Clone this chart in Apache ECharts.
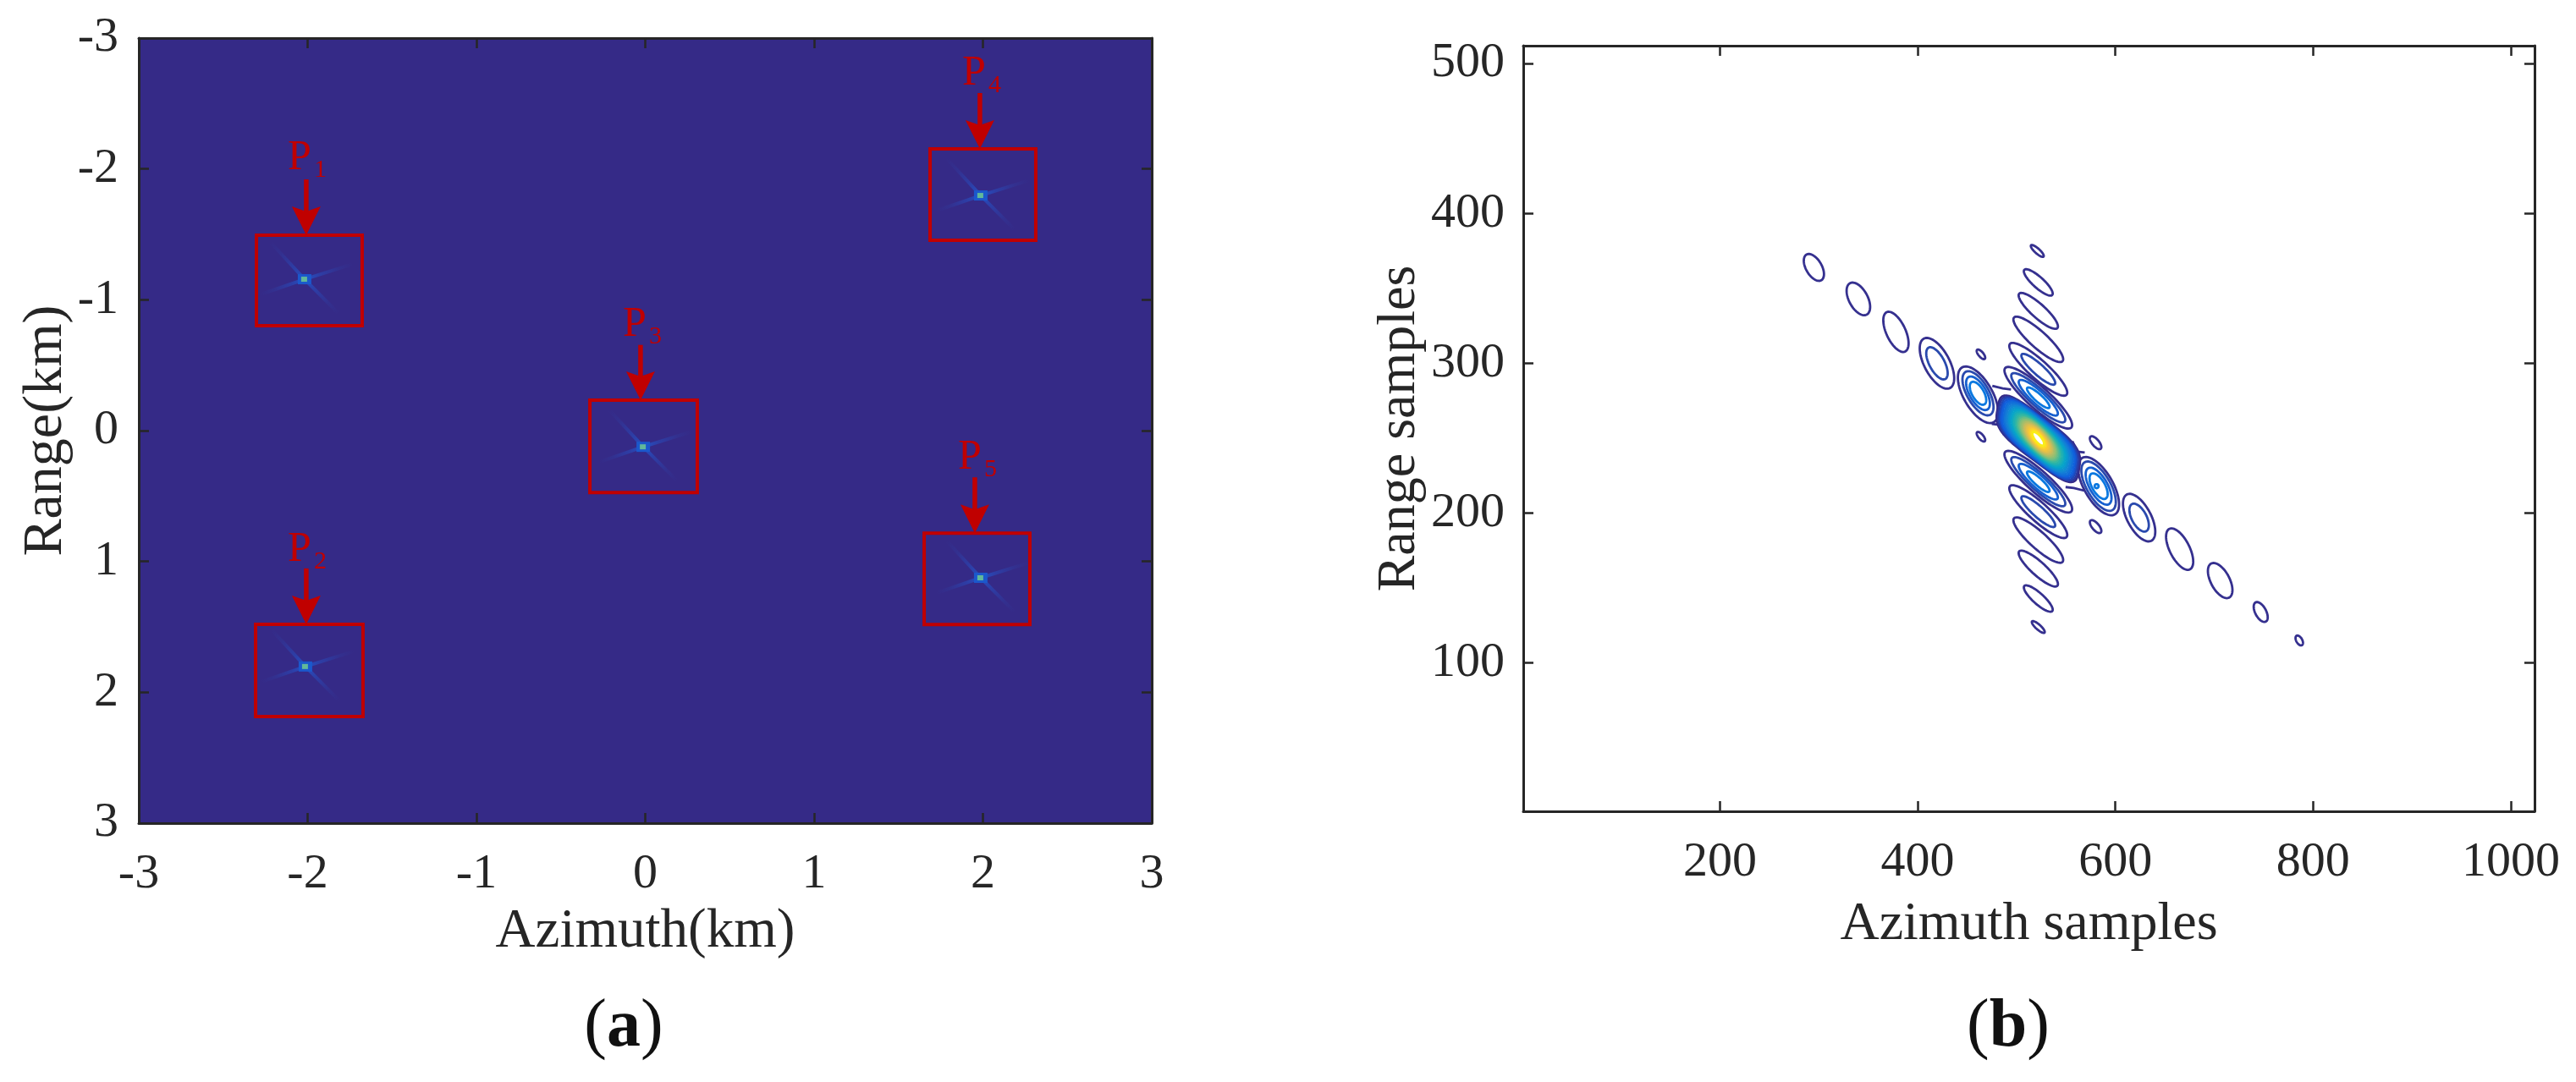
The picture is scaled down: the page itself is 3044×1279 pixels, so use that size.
<!DOCTYPE html>
<html>
<head>
<meta charset="utf-8">
<title>Point targets and contour</title>
<style>
  html, body { margin: 0; padding: 0; background: #fff; }
  #chart { width: 3044px; height: 1279px; }
</style>
</head>
<body>
<div id="chart"></div>
<script src="https://cdn.jsdelivr.net/npm/echarts@6/dist/echarts.min.js"></script>
<script>
// panel (a): tick labels, km
const kmTicks = [-3, -2, -1, 0, 1, 2, 3];
const targetNames = ['1', '2', '3', '4', '5'];
// peak position of each point target [azimuth, range]
const targetPeaks = [[-2.018, -1.157], [-2.013, 1.803], [-0.012, 0.124], [1.987, -1.797], [1.987, 1.125]];
// red boxes [azimuth min, range min, azimuth max, range max]
const targetBoxes = [
  [-2.303, -1.493, -1.677, -0.801],
  [-2.308, 1.481, -1.672, 2.186],
  [-0.328, -0.232, 0.308, 0.473],
  [1.687, -2.153, 2.313, -1.455],
  [1.652, 0.784, 2.278, 1.483]
];
// arrow start [azimuth, range], the tip sits on the top of the box
const arrowStarts = [[-2.008, -1.92], [-2.008, 1.053], [-0.028, -0.655], [1.982, -2.58], [1.952, 0.357]];
// left end / baseline of the P labels
const labelAnchors = [[-2.118, -1.97], [-2.118, 1.02], [-0.133, -0.70], [1.877, -2.62], [1.852, 0.315]];
// sidelobe streak ends, relative to the peak
const streakEnds = [[-0.2, -0.28], [0.2, 0.26], [-0.26, 0.116], [0.286, -0.116]];

// panel (b): tick labels, samples
const azimuthTicks = [200, 400, 600, 800, 1000];
const rangeTicks = [100, 200, 300, 400, 500];
// contours [azimuth, range, half length, half width, tilt degrees, level]
const sideLobes = [
  // azimuth cut, upper left
  [295, 364, 15, 8, 60, 0],
  [340, 343, 18, 9.5, 62, 0],
  [378, 321, 22, 9.7, 65, 0],
  [419.5, 300, 28.3, 12.8, 62, 0],
  [419.5, 300, 18, 7.7, 62, 1],
  [461, 279, 32, 14.5, 60, 0],
  [461, 280, 25, 11, 60, 1],
  [461, 280, 19, 8.5, 60, 2],
  [461, 280, 13, 6, 60, 3],
  // azimuth cut, lower right
  [583, 218, 33, 14.5, 60, 0],
  [583, 218, 28, 12, 60, 1],
  [583, 218, 21, 9, 60, 2],
  [583, 218, 14.5, 6.5, 60, 3],
  [581, 218, 2, 2, 0, 3],
  [624, 197, 26.5, 12, 62, 0],
  [624, 197, 15.5, 7.5, 62, 1],
  [665, 176, 23, 10, 63, 0],
  [706, 155, 19.5, 9.5, 62, 0],
  [747, 134, 11, 5.5, 62, 0],
  [786, 115, 5.5, 3, 60, 0],
  // range cut, upper
  [521, 375, 8.5, 2.5, 42, 0],
  [522, 354, 19, 5.5, 42, 0],
  [522, 335, 26, 7, 42, 0],
  [522, 316, 33, 8.5, 42, 0],
  [522, 296, 38.5, 9.5, 42, 0],
  [522, 296, 22.5, 5.5, 42, 1],
  [522, 277, 45, 11, 42, 0],
  [522, 277, 36, 8.5, 42, 1],
  [522, 277, 26, 6.5, 42, 2],
  [522, 277, 15, 3.8, 42, 3],
  // range cut, lower
  [522, 221, 45, 11, 42, 0],
  [522, 221, 36, 8.5, 42, 1],
  [522, 221, 26, 6.5, 42, 2],
  [522, 221, 15, 3.8, 42, 3],
  [522, 201, 38.5, 9.5, 42, 0],
  [522, 201, 22.5, 5.5, 42, 1],
  [522, 182, 33, 8.5, 42, 0],
  [522, 163, 26, 7, 42, 0],
  [522, 143, 19, 5.5, 42, 0],
  [522, 124, 8.5, 2.5, 42, 0],
  // small ones next to the main lobe
  [464, 306, 6, 2.5, 50, 0],
  [464, 251, 6, 2.5, 50, 0],
  [580, 247, 8, 3.5, 50, 0],
  [580, 191, 8, 3.5, 50, 0]
];
// contour necks that tie the azimuth lobes to the main lobe
const necks = [
  [[556.5, 248], [561.6, 241], [569, 240.5]],
  [[549.6, 217.4], [558, 216.8], [568.5, 215]],
  [[487.5, 252], [482.4, 259], [475, 259.5]],
  [[494.4, 282.6], [486, 283.2], [475.5, 285]]
];
// main lobe
const mainCenter = [522, 249.6];
const mainLong = [41.2, -20.3];
const mainShort = [-3.8, -14.6];
// main lobe contours [scale, squareness, turn degrees]
const mainLevels = [
  [1, 3.6, 0], [0.97, 3.5, 0], [0.94, 3.4, 1], [0.91, 3.3, 1], [0.88, 3.2, 1], [0.85, 3.1, 2],
  [0.82, 3, 2], [0.79, 2.9, 2], [0.76, 2.8, 3], [0.73, 2.7, 3], [0.7, 2.6, 3], [0.67, 2.5, 4],
  [0.64, 2.45, 4], [0.61, 2.4, 4], [0.58, 2.35, 5], [0.55, 2.3, 5], [0.52, 2.25, 5], [0.49, 2.2, 6],
  [0.46, 2.15, 6], [0.43, 2.1, 6], [0.4, 2.1, 7], [0.37, 2.05, 7], [0.34, 2, 7], [0.31, 2, 8],
  [0.28, 2, 8], [0.25, 2, 8], [0.22, 2, 9], [0.19, 2, 9], [0.16, 2, 9]
];
const levelColors = ['#35308f', '#2a4aae', '#1760cf', '#0a78e0'];
const parula = ['#352a87', '#0f5cdd', '#1481d6', '#06a4ca', '#2eb7a4', '#87bf77', '#d1bb59', '#fec832', '#f9fb0e'];

const bgBlue = '#352a87';
const red = '#c00000';
const ink = '#262626';
const serif = '"Liberation Serif", "Times New Roman", serif';

function parulaColor(t) {
  const p = Math.min(Math.max(t, 0), 1) * (parula.length - 1);
  const i = Math.min(Math.floor(p), parula.length - 2);
  const f = p - i;
  const a = echarts.color.parse(parula[i]);
  const b = echarts.color.parse(parula[i + 1]);
  return 'rgb(' + [0, 1, 2].map(k => Math.round(a[k] + (b[k] - a[k]) * f)).join(',') + ')';
}

function makeAxis(type, gridIndex, ticks, min, max, name, nameGap, extra) {
  const main = {
    type: 'value',
    gridIndex: gridIndex,
    min: min,
    max: max,
    name: name,
    nameLocation: 'middle',
    nameGap: nameGap,
    nameTextStyle: { color: ink, fontFamily: serif, fontSize: extra.nameSize },
    axisLine: { onZero: false, lineStyle: { color: ink, width: 3 } },
    axisTick: { show: true, inside: true, length: 12, customValues: ticks, lineStyle: { color: ink, width: 2.5 } },
    axisLabel: {
      show: true,
      color: ink,
      fontFamily: serif,
      fontSize: 58,
      margin: extra.margin,
      customValues: ticks,
      hideOverlap: false,
      formatter: value => String(value)
    },
    splitLine: { show: false },
    inverse: !!extra.inverse
  };
  if (type === 'y') {
    main.nameRotate = 90;
    main.position = 'left';
  } else {
    main.position = 'bottom';
  }
  const mirror = {
    type: 'value',
    gridIndex: gridIndex,
    min: min,
    max: max,
    position: type === 'y' ? 'right' : 'top',
    inverse: !!extra.inverse,
    axisLine: { onZero: false, lineStyle: { color: ink, width: 3 } },
    axisTick: { show: true, inside: true, length: 12, customValues: ticks, lineStyle: { color: ink, width: 2.5 } },
    axisLabel: { show: false },
    splitLine: { show: false }
  };
  return [main, mirror];
}

// a peak with its four faint streaks
function renderPeak(params, api) {
  const i = api.value(0);
  const c = api.coord(targetPeaks[i]);
  const children = streakEnds.map(end => {
    const e = api.coord([targetPeaks[i][0] + end[0], targetPeaks[i][1] + end[1]]);
    return {
      type: 'line',
      shape: { x1: c[0], y1: c[1], x2: e[0], y2: e[1] },
      style: {
        lineWidth: 4,
        stroke: new echarts.graphic.LinearGradient(c[0], c[1], e[0], e[1], [
          { offset: 0, color: '#2450c4' },
          { offset: 0.3, color: '#2d3ea6' },
          { offset: 0.7, color: '#33308f' },
          { offset: 1, color: bgBlue }
        ], true)
      }
    };
  });
  children.push(
    { type: 'rect', shape: { x: c[0] - 8, y: c[1] - 6, width: 16, height: 12 }, style: { fill: '#1b58cc' } },
    { type: 'rect', shape: { x: c[0] - 4, y: c[1] - 3, width: 7, height: 6 }, style: { fill: '#62b89a' } }
  );
  return { type: 'group', children: children };
}

// box, arrow and P label of one target
function renderMarker(params, api) {
  const i = api.value(0);
  const box = targetBoxes[i];
  const a = api.coord([box[0], box[1]]);
  const b = api.coord([box[2], box[3]]);
  const start = api.coord(arrowStarts[i]);
  const tipY = a[1];
  const x = start[0];
  const label = api.coord(labelAnchors[i]);
  return {
    type: 'group',
    children: [
      {
        type: 'rect',
        shape: { x: a[0], y: a[1], width: b[0] - a[0], height: b[1] - a[1] },
        style: { fill: 'none', stroke: red, lineWidth: 4 }
      },
      {
        type: 'line',
        shape: { x1: x, y1: start[1], x2: x, y2: tipY - 20 },
        style: { stroke: red, lineWidth: 5.5 }
      },
      {
        type: 'polygon',
        shape: { points: [[x, tipY], [x + 17, tipY - 34], [x, tipY - 28], [x - 17, tipY - 34]] },
        style: { fill: red }
      },
      {
        type: 'text',
        x: label[0],
        y: label[1] - 17,
        style: { text: 'P', fill: red, font: '50px ' + serif, align: 'left', verticalAlign: 'middle' }
      },
      {
        type: 'text',
        x: label[0] + 31,
        y: label[1] - 3,
        style: { text: targetNames[i], fill: red, font: '30px ' + serif, align: 'left', verticalAlign: 'middle' }
      }
    ]
  };
}

function renderSideLobe(params, api) {
  const c = api.coord([api.value(0), api.value(1)]);
  const size = api.size([1, 1]);
  const A = api.value(2) * size[0];
  const B = api.value(3) * size[0];
  const phi = api.value(4) * Math.PI / 180;
  const points = [];
  for (let k = 0; k < 72; k++) {
    const t = k / 72 * Math.PI * 2;
    const p = A * Math.cos(t);
    const q = B * Math.sin(t);
    points.push([c[0] + p * Math.cos(phi) - q * Math.sin(phi), c[1] + p * Math.sin(phi) + q * Math.cos(phi)]);
  }
  return {
    type: 'polygon',
    shape: { points: points },
    style: { fill: 'none', stroke: levelColors[api.value(5)], lineWidth: 2.8 }
  };
}

function renderMainLevel(params, api) {
  const c = api.coord(mainCenter);
  const size = api.size([1, 1]);
  const scale = api.value(0);
  const power = 2 / api.value(1);
  const turn = api.value(2) * Math.PI / 180;
  const ux = mainLong[0] * size[0], uy = -mainLong[1] * size[1];
  const vx = mainShort[0] * size[0], vy = -mainShort[1] * size[1];
  const points = [];
  for (let k = 0; k < 96; k++) {
    const t = k / 96 * Math.PI * 2;
    const ct = Math.cos(t), st = Math.sin(t);
    const p = Math.sign(ct) * Math.pow(Math.abs(ct), power) * scale;
    const q = Math.sign(st) * Math.pow(Math.abs(st), power) * scale;
    const x = ux * p + vx * q;
    const y = uy * p + vy * q;
    points.push([c[0] + x * Math.cos(turn) - y * Math.sin(turn), c[1] + x * Math.sin(turn) + y * Math.cos(turn)]);
  }
  return {
    type: 'polygon',
    shape: { points: points },
    style: { fill: 'none', stroke: parulaColor(1.15 * (1 - scale)), lineWidth: 2.6 }
  };
}

function renderNeck(params, api) {
  const line = necks[api.value(0)];
  return {
    type: 'polyline',
    shape: { points: line.map(p => api.coord(p)) },
    style: { fill: 'none', stroke: levelColors[0], lineWidth: 2.8 }
  };
}

const xA = makeAxis('x', 0, kmTicks, -3, 3, 'Azimuth(km)', 96, { nameSize: 65, margin: 32 });
const yA = makeAxis('y', 0, kmTicks, -3, 3, 'Range(km)', 76, { nameSize: 66, margin: 24, inverse: true });
const xB = makeAxis('x', 1, azimuthTicks, 1, 1024, 'Azimuth samples', 102, { nameSize: 64, margin: 32 });
const yB = makeAxis('y', 1, rangeTicks, 1, 512, 'Range samples', 114, { nameSize: 64, margin: 22 });

const panelTag = {
  rich: {
    p: { fontFamily: serif, fontSize: 80, fontWeight: 'normal', color: '#111' },
    b: { fontFamily: serif, fontSize: 80, fontWeight: 'bold', color: '#111' }
  }
};

const option = {
  animation: false,
  backgroundColor: '#fff',
  title: [
    { text: '{p|(}{b|a}{p|)}', left: 732, top: 1170, textAlign: 'center', textStyle: panelTag },
    { text: '{p|(}{b|b}{p|)}', left: 2368, top: 1170, textAlign: 'center', textStyle: panelTag }
  ],
  grid: [
    { left: 164, top: 45, width: 1197, height: 928, show: true, backgroundColor: bgBlue, borderWidth: 0 },
    { left: 1800, top: 54, width: 1195, height: 905 }
  ],
  xAxis: [xA[0], xA[1], xB[0], xB[1]],
  yAxis: [yA[0], yA[1], yB[0], yB[1]],
  series: [
    {
      type: 'custom',
      name: 'peaks',
      xAxisIndex: 0,
      yAxisIndex: 0,
      silent: true,
      renderItem: renderPeak,
      encode: { x: 1, y: 2 },
      data: targetPeaks.map((p, i) => [i, p[0], p[1]])
    },
    {
      type: 'custom',
      name: 'markers',
      xAxisIndex: 0,
      yAxisIndex: 0,
      silent: true,
      renderItem: renderMarker,
      encode: { x: 1, y: 2 },
      data: targetPeaks.map((p, i) => [i, p[0], p[1]])
    },
    {
      type: 'custom',
      name: 'side lobes',
      xAxisIndex: 2,
      yAxisIndex: 2,
      silent: true,
      renderItem: renderSideLobe,
      encode: { x: 0, y: 1 },
      data: sideLobes
    },
    {
      type: 'custom',
      name: 'necks',
      xAxisIndex: 2,
      yAxisIndex: 2,
      silent: true,
      renderItem: renderNeck,
      encode: { x: 1, y: 2 },
      data: necks.map((n, i) => [i, n[0][0], n[0][1]])
    },
    {
      type: 'custom',
      name: 'main lobe',
      xAxisIndex: 2,
      yAxisIndex: 2,
      silent: true,
      renderItem: renderMainLevel,
      encode: { x: 3, y: 4 },
      data: mainLevels.map(l => [l[0], l[1], l[2], mainCenter[0], mainCenter[1]])
    }
  ]
};

const chart = echarts.init(document.getElementById('chart'));
chart.setOption(option);
</script>
</body>
</html>
